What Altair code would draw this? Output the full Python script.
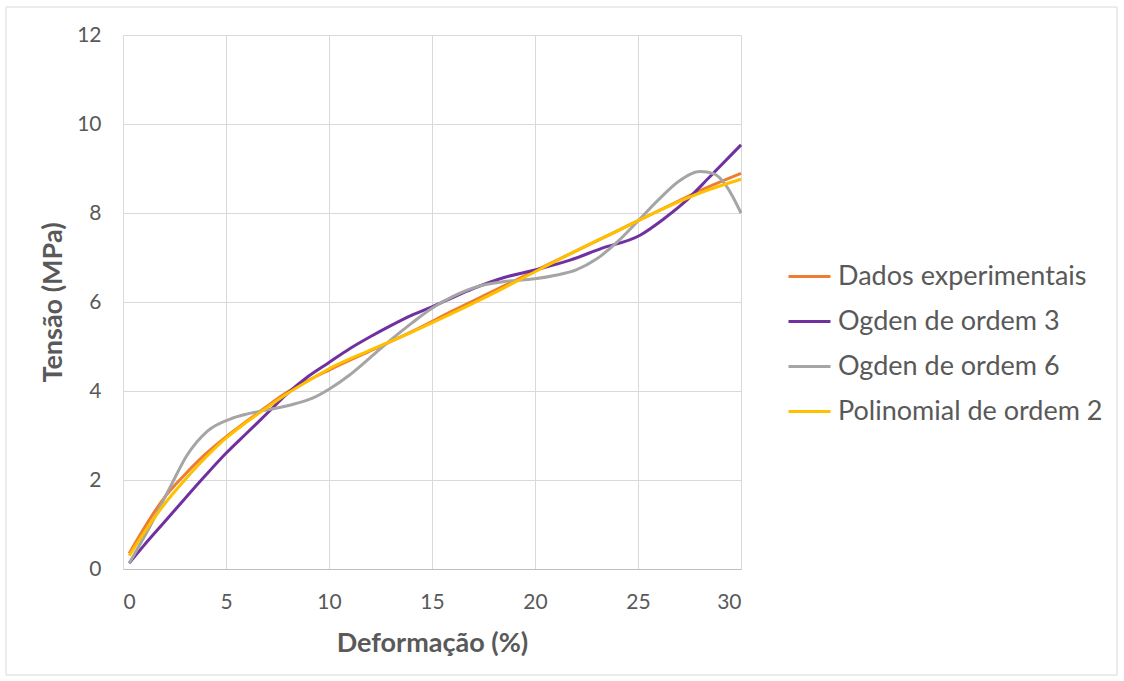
import altair as alt
import pandas as pd

series_names = ["Dados experimentais", "Ogden de ordem 3", "Ogden de ordem 6", "Polinomial de ordem 2"]
series_colors = ["#ED7D31", "#7030A0", "#A5A5A5", "#FFC000"]

exp_x = [0.3, 1.0, 2.0, 3.0, 4.0, 5.0, 6.0, 7.0, 8.0, 9.0, 10.0, 12.0, 14.0, 16.0, 18.0, 20.0, 22.0, 24.0, 26.0, 28.0, 30.0]
exp_y = [0.35, 0.9, 1.6, 2.12, 2.58, 2.97, 3.32, 3.66, 3.98, 4.24, 4.47, 4.9, 5.33, 5.8, 6.25, 6.7, 7.15, 7.6, 8.05, 8.5, 8.89]

og3_x = [0.3, 1.0, 2.0, 3.0, 4.0, 5.0, 6.0, 7.0, 8.0, 9.0, 10.0, 11.0, 12.0, 13.0, 14.0, 15.0, 16.0, 17.0, 18.5, 20.0, 21.7, 23.2, 25.1, 26.2, 27.2, 28.5, 30.0]
og3_y = [0.13, 0.52, 1.05, 1.58, 2.1, 2.6, 3.05, 3.5, 3.95, 4.33, 4.64, 4.95, 5.22, 5.47, 5.7, 5.89, 6.1, 6.3, 6.55, 6.72, 6.94, 7.2, 7.5, 7.85, 8.22, 8.82, 9.53]

og6_x = [0.3, 1.3, 2.3, 3.1, 4.1, 5.2, 6.0, 6.8, 7.6, 8.4, 9.2, 10.0, 11.0, 12.0, 13.0, 14.0, 15.0, 16.0, 17.3, 18.5, 20.0, 21.0, 22.0, 23.0, 24.0, 25.0, 26.0, 27.0, 28.0, 28.7, 29.3, 30.0]
og6_y = [0.13, 0.95, 1.85, 2.55, 3.1, 3.37, 3.48, 3.56, 3.63, 3.72, 3.84, 4.04, 4.36, 4.75, 5.15, 5.52, 5.86, 6.12, 6.36, 6.46, 6.52, 6.6, 6.72, 6.97, 7.35, 7.82, 8.3, 8.72, 8.93, 8.88, 8.6, 8.0]

pol_x = [0.3, 1.0, 2.0, 3.0, 4.0, 5.0, 6.0, 7.0, 8.0, 9.0, 10.0, 12.0, 14.0, 16.0, 18.0, 20.0, 22.0, 24.0, 26.0, 28.0, 30.0]
pol_y = [0.3, 0.8, 1.45, 2.0, 2.5, 2.94, 3.3, 3.63, 3.95, 4.23, 4.5, 4.92, 5.32, 5.75, 6.2, 6.68, 7.15, 7.6, 8.05, 8.45, 8.76]

x_ticks = [0, 5, 10, 15, 20, 25, 30]
y_ticks = [0, 2, 4, 6, 8, 10, 12]

frames = []
for name, xs, ys in zip(series_names, [exp_x, og3_x, og6_x, pol_x], [exp_y, og3_y, og6_y, pol_y]):
    frames.append(pd.DataFrame({"x": xs, "y": ys, "serie": name}))
df = pd.concat(frames, ignore_index=True)

FONT = "Lato"
TXT = "#595959"

color = alt.Color(
    "serie:N",
    scale=alt.Scale(domain=series_names, range=series_colors),
    legend=alt.Legend(
        title=None,
        orient="none",
        legendX=664,
        legendY=219,
        symbolType="stroke",
        symbolSize=1764,
        symbolStrokeWidth=3,
        labelFontSize=27,
        labelFont=FONT,
        labelColor=TXT,
        labelOffset=6,
        labelLimit=0,
        rowPadding=9,
    ),
)

xenc = alt.X(
    "x:Q",
    scale=alt.Scale(domain=[0, 30], nice=False),
    axis=alt.Axis(
        values=x_ticks,
        title="Deformação (%)",
        titleY=74,
        titleBaseline="middle",
        labelPadding=22,
        ticks=False,
        domainColor="#BFBFBF",
        grid=True,
    ),
)
yenc = alt.Y(
    "y:Q",
    scale=alt.Scale(domain=[0, 12], nice=False),
    axis=alt.Axis(
        values=y_ticks,
        title="Tensão (MPa)",
        titleX=-70,
        titleY=267,
        titleBaseline="middle",
        labelPadding=22,
        ticks=False,
        domain=False,
        grid=True,
    ),
)

layers = []
for name in series_names:
    layers.append(
        alt.Chart(df)
        .transform_filter(alt.datum.serie == name)
        .mark_line(strokeWidth=3, interpolate="monotone")
        .encode(x=xenc, y=yenc, color=color)
    )

border = (
    alt.Chart(alt.Data(values=[{"a": 1}]))
    .mark_rect(fill=None, stroke="#D9D9D9", strokeWidth=1)
    .encode(
        x=alt.value(-117),
        x2=alt.value(994),
        y=alt.value(-28),
        y2=alt.value(640),
    )
)

chart = (
    alt.layer(*layers, border)
    .properties(width=618, height=534, padding={"left": 5, "top": 6, "right": 5, "bottom": 5},
                background="white")
    .configure_view(stroke=None)
    .configure_axis(
        labelFont=FONT,
        labelFontSize=21,
        labelColor=TXT,
        titleFont=FONT,
        titleFontSize=27,
        titleFontWeight="bold",
        titleColor=TXT,
        gridColor="#D9D9D9",
        gridWidth=1,
    )
)

chart.save("out.html", embed_options={"renderer": "svg", "actions": False})
